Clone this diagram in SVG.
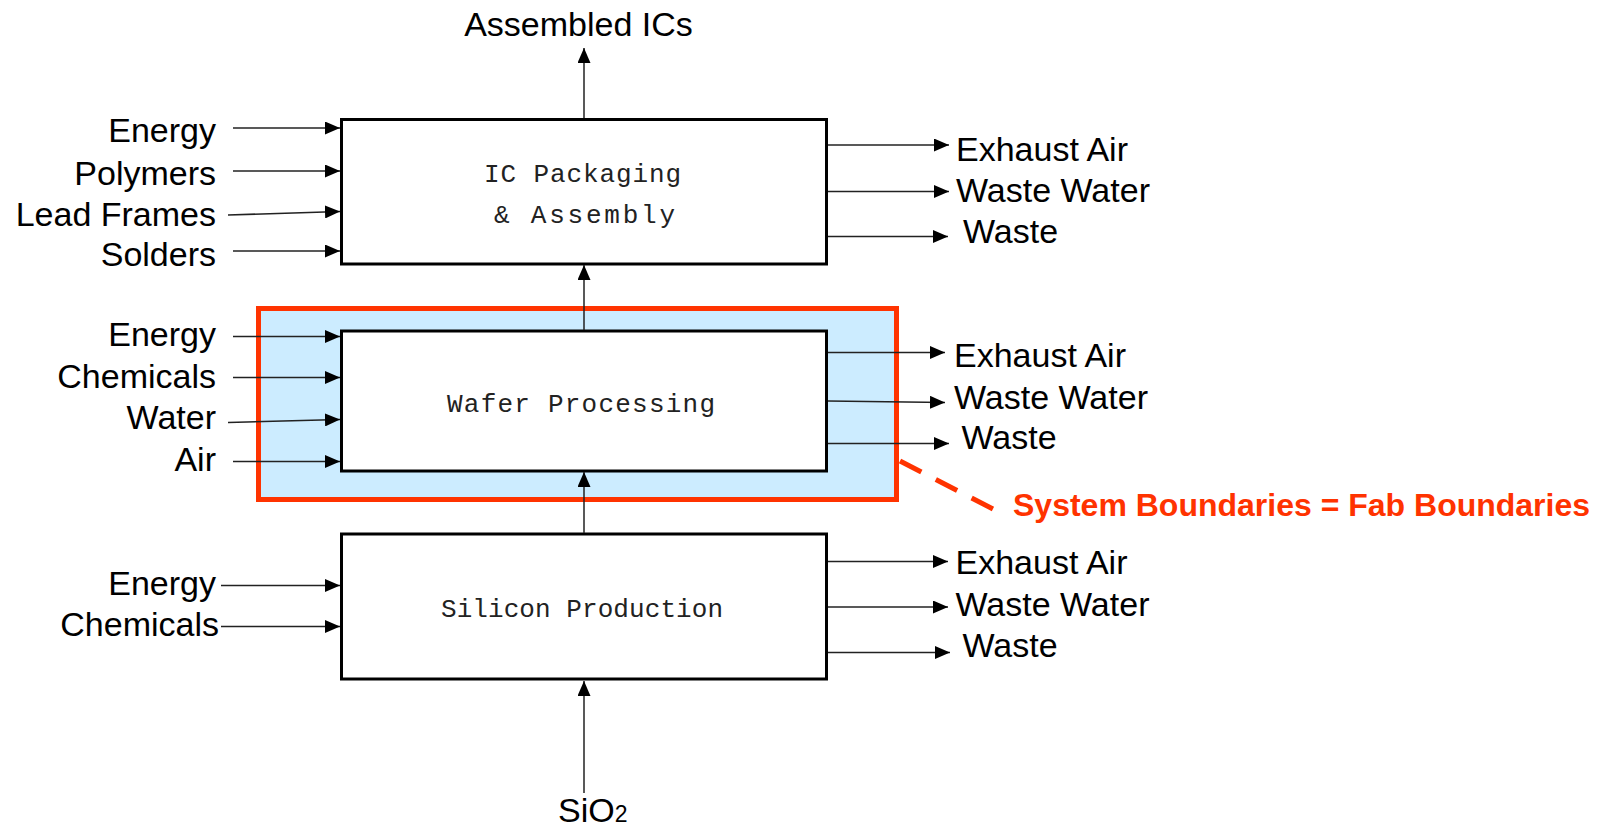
<svg xmlns="http://www.w3.org/2000/svg" width="1605" height="826" viewBox="0 0 1605 826">
  <defs>
    <marker id="ah" markerUnits="userSpaceOnUse" markerWidth="15" markerHeight="13" refX="15" refY="6.5" orient="auto">
      <path d="M0,0 L15,6.5 L0,13 z" fill="#000"/>
    </marker>
  </defs>
  <style>
    .lbl { font-family: "Liberation Sans", Arial, sans-serif; font-size: 34px; fill: #000; }
    .end { text-anchor: end; }
    .box { fill: #fff; stroke: #000; stroke-width: 3; }
    .mono { font-family: "Liberation Mono", "Courier New", monospace; font-size: 26px; fill: #222; }
    .con { fill: none; stroke: #222; stroke-width: 1.5; marker-end: url(#ah); }
    .red { font-family: "Liberation Sans", Arial, sans-serif; font-size: 32px; font-weight: bold; fill: #FF3300; }
  </style>
  <rect width="1605" height="826" fill="#fff"/>

  <g id="system-boundary">
    <rect x="258.5" y="308.5" width="638" height="191" fill="#CCECFF" stroke="#FF3300" stroke-width="5"/>
    <line x1="900" y1="461" x2="993" y2="509" stroke="#FF3300" stroke-width="5" stroke-dasharray="24 16.3"/>
    <text class="red" x="1013" y="516">System Boundaries = Fab Boundaries</text>
  </g>

  <g id="ic-packaging">
    <rect class="box" x="341.5" y="119.5" width="485" height="144.5"/>
    <text class="mono" x="484" y="182" textLength="197" lengthAdjust="spacing">IC Packaging</text>
    <text class="mono" x="494" y="223" textLength="181" lengthAdjust="spacing">&amp; Assembly</text>
  </g>

  <g id="wafer-processing">
    <rect class="box" x="341.5" y="331" width="485" height="140"/>
    <text class="mono" x="447" y="412" textLength="268" lengthAdjust="spacing">Wafer Processing</text>
  </g>

  <g id="silicon-production">
    <rect class="box" x="341.5" y="534" width="485" height="145"/>
    <text class="mono" x="441" y="617" textLength="282" lengthAdjust="spacing">Silicon Production</text>
  </g>

  <g id="inputs">
    <text class="lbl end" x="216" y="142">Energy</text>
    <text class="lbl end" x="216" y="184.5">Polymers</text>
    <text class="lbl end" x="216" y="226">Lead Frames</text>
    <text class="lbl end" x="216" y="266">Solders</text>
    <text class="lbl end" x="216" y="346">Energy</text>
    <text class="lbl end" x="216" y="387.5">Chemicals</text>
    <text class="lbl end" x="216" y="428.5">Water</text>
    <text class="lbl end" x="216" y="471">Air</text>
    <text class="lbl end" x="216" y="595">Energy</text>
    <text class="lbl end" x="219" y="636">Chemicals</text>
    <text class="lbl" x="558" y="822">SiO<tspan font-size="23">2</tspan></text>
  </g>

  <g id="outputs">
    <text class="lbl" x="578.5" y="36" text-anchor="middle">Assembled ICs</text>
    <text class="lbl" x="956" y="160.5">Exhaust Air</text>
    <text class="lbl" x="956" y="202">Waste Water</text>
    <text class="lbl" x="963" y="242.5">Waste</text>
    <text class="lbl" x="954" y="367">Exhaust Air</text>
    <text class="lbl" x="954" y="408.5">Waste Water</text>
    <text class="lbl" x="961.5" y="449">Waste</text>
    <text class="lbl" x="955.5" y="574">Exhaust Air</text>
    <text class="lbl" x="955.5" y="615.5">Waste Water</text>
    <text class="lbl" x="962.5" y="657">Waste</text>
  </g>

  <g id="connectors">
    <line class="con" x1="584" y1="118" x2="584" y2="48"/>
    <line class="con" x1="584" y1="330" x2="584" y2="265"/>
    <line class="con" x1="584" y1="533" x2="584" y2="472"/>
    <line class="con" x1="584" y1="793" x2="584" y2="681"/>
    <line class="con" x1="233" y1="128" x2="340" y2="128"/>
    <line class="con" x1="233" y1="171" x2="340" y2="171"/>
    <line class="con" x1="228" y1="215" x2="340" y2="211.5"/>
    <line class="con" x1="233" y1="251" x2="340" y2="251"/>
    <line class="con" x1="233" y1="336.5" x2="340" y2="336.5"/>
    <line class="con" x1="233" y1="377.5" x2="340" y2="377.5"/>
    <line class="con" x1="228" y1="422.5" x2="340" y2="419.5"/>
    <line class="con" x1="233" y1="461.5" x2="340" y2="461.5"/>
    <line class="con" x1="221" y1="585.5" x2="340" y2="585.5"/>
    <line class="con" x1="221" y1="626.5" x2="340" y2="626.5"/>
    <line class="con" x1="828" y1="145" x2="949" y2="145"/>
    <line class="con" x1="828" y1="191.5" x2="949" y2="191.5"/>
    <line class="con" x1="828" y1="236.5" x2="948" y2="236.5"/>
    <line class="con" x1="828" y1="352.5" x2="945" y2="352.5"/>
    <line class="con" x1="828" y1="401" x2="945" y2="402.5"/>
    <line class="con" x1="828" y1="443.5" x2="949" y2="443.5"/>
    <line class="con" x1="828" y1="561.5" x2="948" y2="561.5"/>
    <line class="con" x1="828" y1="607" x2="948" y2="607"/>
    <line class="con" x1="828" y1="652.5" x2="950" y2="652.5"/>
  </g>
</svg>
